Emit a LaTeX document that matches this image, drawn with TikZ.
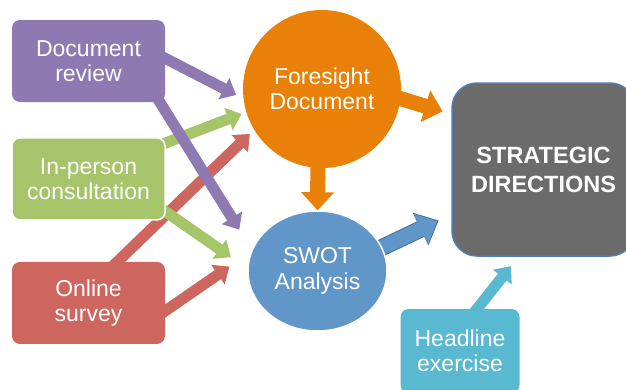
\documentclass[tikz,border=0pt]{standalone}
\usepackage{fontspec}
\setmainfont{Liberation Sans}
\usetikzlibrary{arrows.meta}
\usetikzlibrary{positioning}
\usetikzlibrary{shapes.geometric}
\usetikzlibrary{backgrounds}

\definecolor{lilac}{HTML}{8E79B3}
\definecolor{leaf}{HTML}{A6C46A}
\definecolor{brick}{HTML}{CD665F}
\definecolor{amber}{HTML}{E98008}
\definecolor{skyblue}{HTML}{6096C8}
\definecolor{deepblue}{HTML}{41709C}
\definecolor{slate}{HTML}{6B6B6B}
\definecolor{steel}{HTML}{4F7DB5}
\definecolor{teal}{HTML}{59B9D1}

\begin{document}
\begin{tikzpicture}[x=1pt,y=-1pt,node distance=35pt,
                    box node/.style={rectangle,rounded corners=8pt,minimum width=153pt,
                      minimum height=82pt,inner sep=0pt,align=center,text=white,
                      font=\fontsize{23pt}{25.5pt}\selectfont},
                    thin arrow/.style={draw,line width=11pt,-{Triangle[length=14pt,width=23pt]},shorten <=-6pt},
                    thick arrow/.style={draw,line width=15pt,-{Triangle[length=18pt,width=32pt]},shorten <=-6pt}]
  \useasboundingbox (0,0) rectangle (626,389);
  \clip (0,0) rectangle (626,389);

  \node[box node,fill=lilac] (review) at (88.5,61) {Document\\review};
  \node[box node,fill=leaf,draw=white,line width=1.5pt] (inperson) [below=of review] {In-person\\consultation};
  \node[box node,fill=brick] (online) [below=41pt of inperson] {Online\\survey};
  \node[box node,circle,minimum size=158pt,fill=amber] (fore) at (322,89) {Foresight\\Document};
  \node[box node,ellipse,minimum width=139pt,minimum height=120pt,fill=skyblue,
        draw=white,line width=1.5pt] (swot) at (317.5,271) {SWOT\\Analysis};
  \node[box node,rounded corners=25pt,minimum width=183pt,minimum height=173pt,fill=slate,
        draw=steel,line width=1.5pt,font=\bfseries\fontsize{23.5pt}{29pt}\selectfont]
        (strat) at (543.5,169.5) {STRATEGIC\\DIRECTIONS};
  \node[box node,minimum width=119pt,minimum height=84pt,fill=teal] (headline) at (460,351) {Headline\\exercise};

  \begin{scope}[on background layer]
    \path
      (online.55) edge[thin arrow,brick,shorten >=6pt] (fore.211)
      (online.-6) edge[thin arrow,brick,shorten >=26pt] (swot.164)
      (inperson.25) edge[thin arrow,leaf,shorten >=5pt] (fore.197)
      (inperson.-23) edge[thin arrow,leaf,shorten >=20pt] (swot.178)
      (review.2) edge[thin arrow,lilac,shorten >=8pt] (fore.187)
      (review.-30) edge[thin arrow,lilac,shorten >=23.5pt] (swot.162)
      (fore.-93) edge[thick arrow,amber] (swot.north)
      (fore.-7) edge[thick arrow,amber,shorten >=9pt] (strat.149)
      (swot.20) edge[thick arrow,deepblue,line width=17pt,-{Triangle[length=20pt,width=35pt]},shorten >=14pt] (strat.206)
      (swot.20) edge[thick arrow,skyblue,shorten >=15.5pt] (strat.206)
      (headline.68) edge[thin arrow,teal,shorten >=12pt] (strat.254)
    ;
  \end{scope}
\end{tikzpicture}
\end{document}
